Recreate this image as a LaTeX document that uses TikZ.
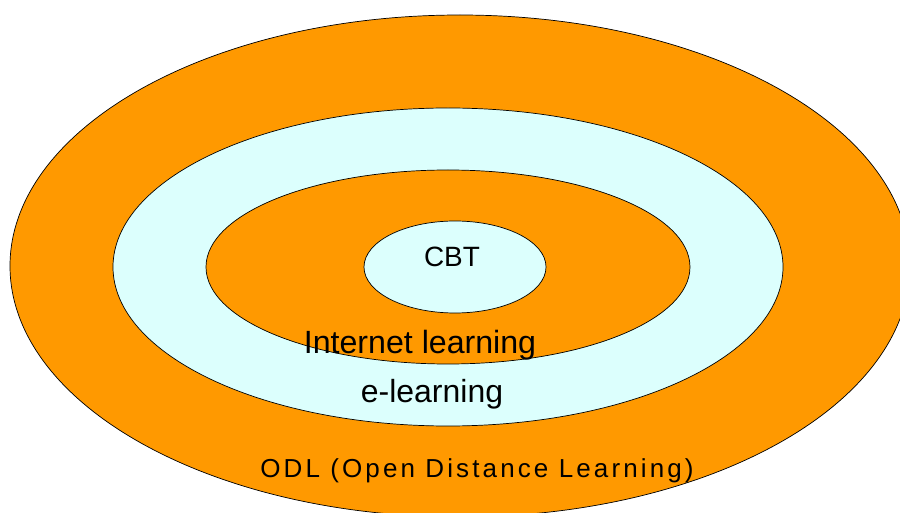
\documentclass[tikz,border=0pt]{standalone}
\usepackage{xcolor}
\usepackage{fontspec}
\setmainfont{Liberation Sans}
\newfontfamily\spacedfont[LetterSpace=12]{Liberation Sans}
\usepackage{tikz}
\usetikzlibrary{positioning, calc}

\definecolor{ringorange}{RGB}{255,153,0}
\definecolor{ringcyan}{RGB}{220,255,253}

\begin{document}
\begin{tikzpicture}[x=0.02cm, y=-0.02cm, every node/.style={inner sep=0pt, anchor=base}]
	
	%//page is 900 x 513, y runs down
	\useasboundingbox (0,0) rectangle (900,513);
	
	%//rings, outside in
	\foreach \cx/\cy/\rx/\ry/\col in {460/266/450/251/ringorange, 448/267/335/159/ringcyan, 448/267/242/97/ringorange, 455/267/91/46/ringcyan}
	{
		\filldraw [fill=\col, draw=black, line width=0.4pt] (\cx, \cy) ellipse [x radius=\rx, y radius=\ry];
	}
	
	\node (cbt) [font=\fontsize{15.9}{19}\selectfont] at (452, 267) {CBT};
	\node (internet) [font=\fontsize{18.3}{22}\selectfont] at (420, 354) {Internet learning};
	\node (elearning) [font=\fontsize{18.2}{22}\selectfont] at (432, 402) {e-learning};
	\node (odl) [font=\fontsize{14.8}{18}\spacedfont] at (477, 478) {ODL (Open Distance Learning)};
	
\end{tikzpicture}
\end{document}
